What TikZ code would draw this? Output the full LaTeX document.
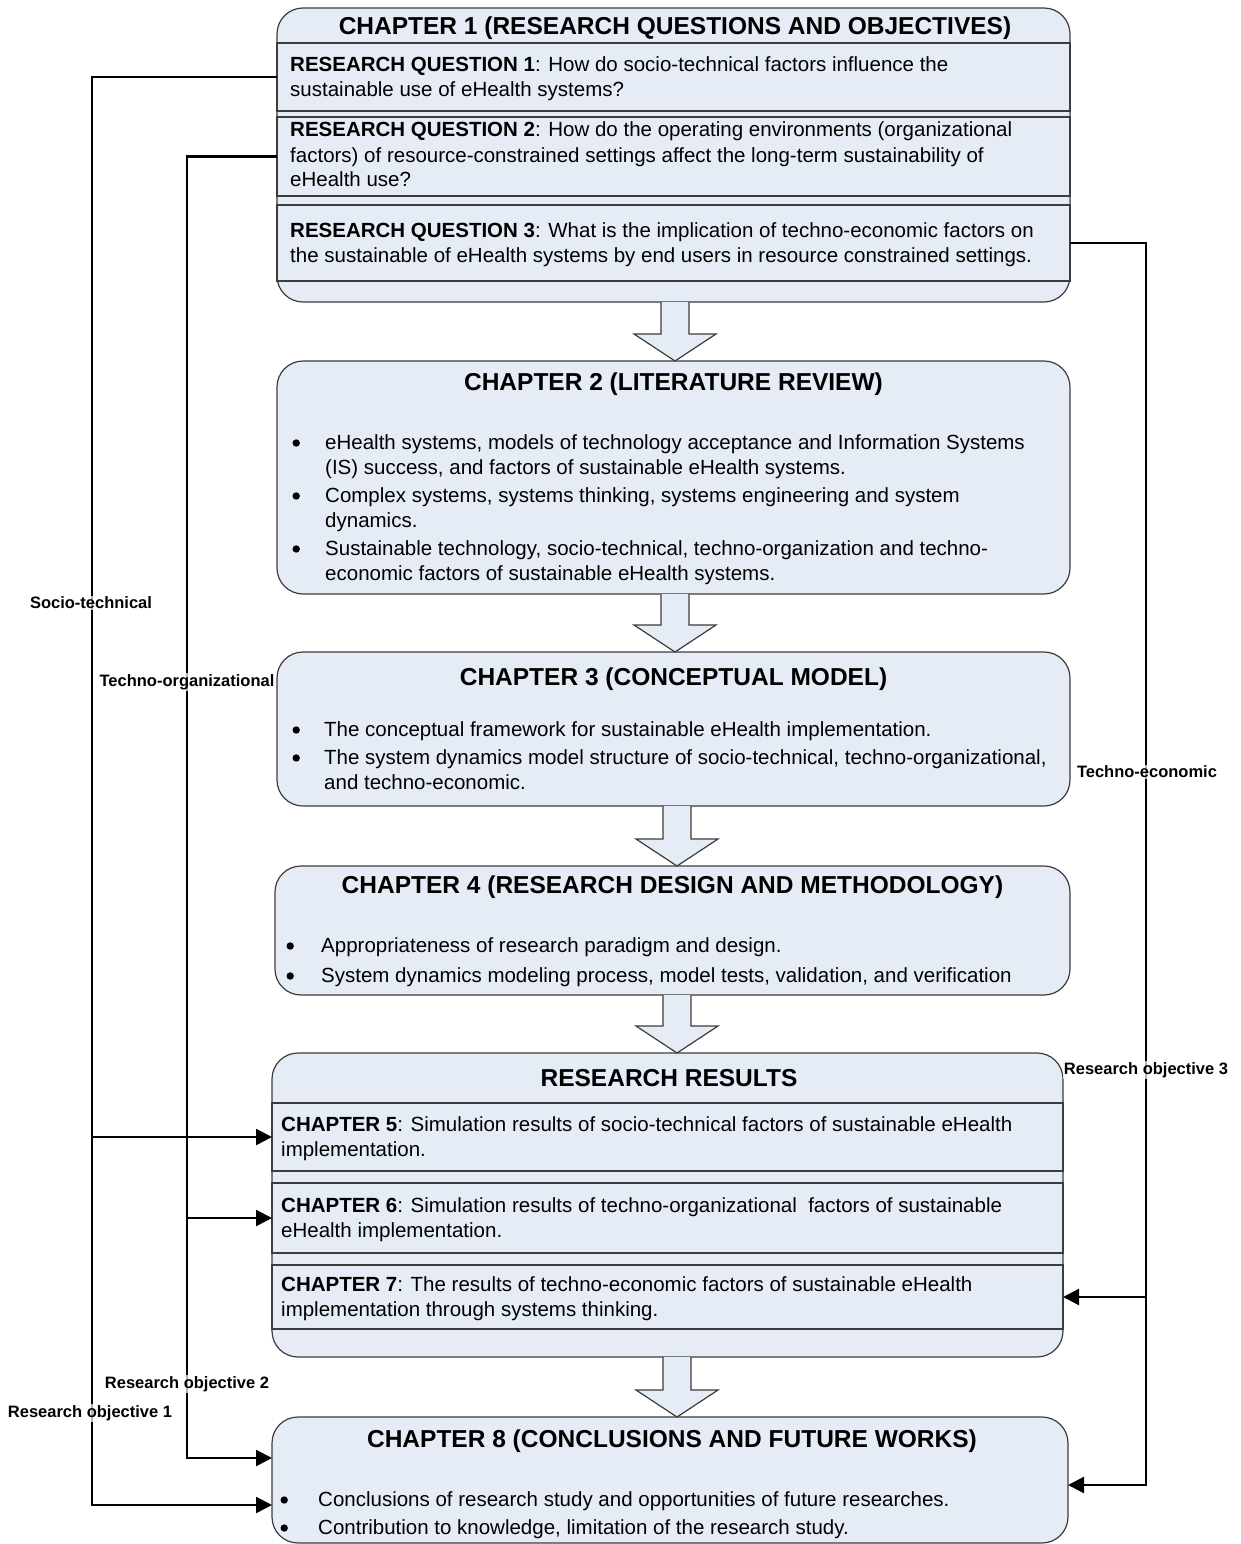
\documentclass[tikz,border=0pt]{standalone}
\usepackage{fontspec}
\setmainfont{Liberation Sans}
\usetikzlibrary{arrows.meta,calc}

\definecolor{boxfill}{HTML}{E6ECF6}
\definecolor{edgegray}{HTML}{3C3C3C}

% round bullet placed #1 to the left of the item text (measured to the bullet centre)
\newcommand\bul[1]{\llap{\makebox[#1][l]{\makebox[0pt][c]{\tikz[baseline=0pt]\fill (0pt,6pt) circle (3.7pt);}}}}

% hollow block arrow from the bottom of one box to the top of the next
\newcommand\blockdown[3]{%
  \path[blockarr] let \p1=(#2.south), \p2=(#3.north) in
    ({#1pt-14pt},\y1) -- ({#1pt-14pt},{\y2+27pt}) -- ({#1pt-41pt},{\y2+27pt}) --
    ({#1pt},\y2) -- ({#1pt+41pt},{\y2+27pt}) -- ({#1pt+14pt},{\y2+27pt}) -- ({#1pt+14pt},\y1);}

\tikzset{
  chbox/.style={draw=edgegray, line width=1.2pt, fill=boxfill, rounded corners=26pt,
    inner sep=0pt, outer sep=0pt},
  panel/.style={draw=edgegray, line width=1.2pt, fill=boxfill, inner sep=0pt, outer sep=0pt},
  blockarr/.style={draw=edgegray, line width=1.2pt, fill=boxfill},
  conn/.style={line width=2.4pt, draw=black},
  arr/.style={conn, -{Triangle[length=16pt,width=16pt]}},
  lbl/.style={font=\fontsize{16.5}{19}\selectfont\bfseries, fill=white, fill opacity=0.7,
    text opacity=1, inner sep=1pt},
  ttl/.style={font=\fontsize{24.5}{29}\selectfont\bfseries, anchor=base, inner sep=0pt},
  body/.style={font=\fontsize{20.5}{25}\selectfont, anchor=base west, inner sep=0pt},
}

\begin{document}
\begin{tikzpicture}[x=1pt,y=-1pt]
\useasboundingbox (0,0) rectangle (1241,1544);
\renewcommand\arraystretch{1}

% ---------- Chapter 1 ----------
\node[chbox, minimum width=793pt, minimum height=294pt] (ch1) at (673.5,155) {};
\node[panel, minimum width=793pt, minimum height=68pt] (rq1) at (673.5,77) {};
\node[panel, minimum width=793pt, minimum height=79pt] (rq2) at (673.5,156.5) {};
\node[panel, minimum width=793pt, minimum height=76pt] (rq3) at (673.5,243) {};
\node[ttl] (t1) at (675,35) {CHAPTER 1 (RESEARCH QUESTIONS AND OBJECTIVES)};
\node[body] (q1) at (290,72) {\begin{tabular}[t]{@{}l@{}}
\textbf{RESEARCH QUESTION 1}: How do socio-technical factors influence the\\
sustainable use of eHealth systems?\end{tabular}};
\node[body] (q2) at (290,137) {\begin{tabular}[t]{@{}l@{}}
\textbf{RESEARCH QUESTION 2}: How do the operating environments (organizational\\
factors) of resource-constrained settings affect the long-term sustainability of\\
eHealth use?\end{tabular}};
\node[body] (q3) at (290,237) {\begin{tabular}[t]{@{}l@{}}
\textbf{RESEARCH QUESTION 3}: What is the implication of techno-economic factors on\\
the sustainable of eHealth systems by end users in resource constrained settings.\end{tabular}};

% ---------- Chapter 2 ----------
\node[chbox, minimum width=793pt, minimum height=233pt] (ch2) at (673.5,477.5) {};
\node[ttl] (t2) at (673.5,390) {CHAPTER 2 (LITERATURE REVIEW)};
\node[body] (b2) at (325,449) {\begin{tabular}[t]{@{}l@{}}
\bul{29pt}eHealth systems, models of technology acceptance and Information Systems\\
(IS) success, and factors of sustainable eHealth systems.\\[3pt]
\bul{29pt}Complex systems, systems thinking, systems engineering and system\\
dynamics.\\[3pt]
\bul{29pt}Sustainable technology, socio-technical, techno-organization and techno-\\
economic factors of sustainable eHealth systems.\end{tabular}};

% ---------- Chapter 3 ----------
\node[chbox, minimum width=793pt, minimum height=154pt] (ch3) at (673.5,729) {};
\node[ttl] (t3) at (673.5,685) {CHAPTER 3 (CONCEPTUAL MODEL)};
\node[body] (b3) at (324,736) {\begin{tabular}[t]{@{}l@{}}
\bul{28pt}The conceptual framework for sustainable eHealth implementation.\\[3pt]
\bul{28pt}The system dynamics model structure of socio-technical, techno-organizational,\\
and techno-economic.\end{tabular}};

% ---------- Chapter 4 ----------
\node[chbox, minimum width=795pt, minimum height=129pt] (ch4) at (672.5,930.5) {};
\node[ttl] (t4) at (672.5,893) {CHAPTER 4 (RESEARCH DESIGN AND METHODOLOGY)};
\node[body] (b4) at (321,952) {\begin{tabular}[t]{@{}l@{}}
\bul{31pt}Appropriateness of research paradigm and design.\\[5pt]
\bul{31pt}System dynamics modeling process, model tests, validation, and verification\end{tabular}};

% ---------- Research results (chapters 5-7) ----------
\node[chbox, minimum width=791pt, minimum height=304pt] (res) at (667.5,1205) {};
\node[panel, minimum width=791pt, minimum height=68pt] (ch5p) at (667.5,1137) {};
\node[panel, minimum width=791pt, minimum height=70pt] (ch6p) at (667.5,1218) {};
\node[panel, minimum width=791pt, minimum height=64pt] (ch7p) at (667.5,1297) {};
\node[ttl] (tr) at (669,1086) {RESEARCH RESULTS};
\node[body] (c5) at (281,1131) {\begin{tabular}[t]{@{}l@{}}
\textbf{CHAPTER 5}: Simulation results of socio-technical factors of sustainable eHealth\\
implementation.\end{tabular}};
\node[body] (c6) at (281,1212) {\begin{tabular}[t]{@{}l@{}}
\textbf{CHAPTER 6}: Simulation results of techno-organizational\ \ factors of sustainable\\
eHealth implementation.\end{tabular}};
\node[body] (c7) at (281,1291) {\begin{tabular}[t]{@{}l@{}}
\textbf{CHAPTER 7}: The results of techno-economic factors of sustainable eHealth\\
implementation through systems thinking.\end{tabular}};

% ---------- Chapter 8 ----------
\node[chbox, minimum width=796pt, minimum height=126pt] (ch8) at (670,1480) {};
\node[ttl] (t8) at (672,1447) {CHAPTER 8 (CONCLUSIONS AND FUTURE WORKS)};
\node[body] (b8) at (318,1506) {\begin{tabular}[t]{@{}l@{}}
\bul{34pt}Conclusions of research study and opportunities of future researches.\\[3pt]
\bul{34pt}Contribution to knowledge, limitation of the research study.\end{tabular}};

% ---------- block arrows between chapters ----------
\blockdown{675}{ch1}{ch2}
\blockdown{675}{ch2}{ch3}
\blockdown{677}{ch3}{ch4}
\blockdown{677}{ch4}{res}
\blockdown{677}{res}{ch8}

% ---------- objective connectors ----------
\coordinate (socx) at (92,0);
\coordinate (orgx) at (187,0);
\coordinate (ecox) at (1146,0);
\coordinate (in8a) at (272,1458);
\coordinate (in8b) at (272,1505);
\coordinate (in8c) at (1068,1485);

\draw[arr] (rq1.west) -| (socx |- in8b) -- (in8b);
\draw[arr] (socx |- ch5p.west) -- (ch5p.west);
\draw[arr] (rq2.west) -| (orgx |- in8a) -- (in8a);
\draw[arr] (orgx |- ch6p.west) -- (ch6p.west);
\draw[arr] (rq3.east) -| (ecox |- in8c) -- (in8c);
\draw[arr] (ecox |- ch7p.east) -- (ch7p.east);

% ---------- connector labels ----------
\node[lbl] (l1) at (91,603) {Socio-technical};
\node[lbl] (l2) at (187,682) {Techno-organizational};
\node[lbl] (l3) at (1147,772) {Techno-economic};
\node[lbl] (l4) at (187,1384) {Research objective 2};
\node[lbl] (l5) at (90,1413) {Research objective 1};
\node[lbl] (l6) at (1146,1070) {Research objective 3};
\end{tikzpicture}
\end{document}
